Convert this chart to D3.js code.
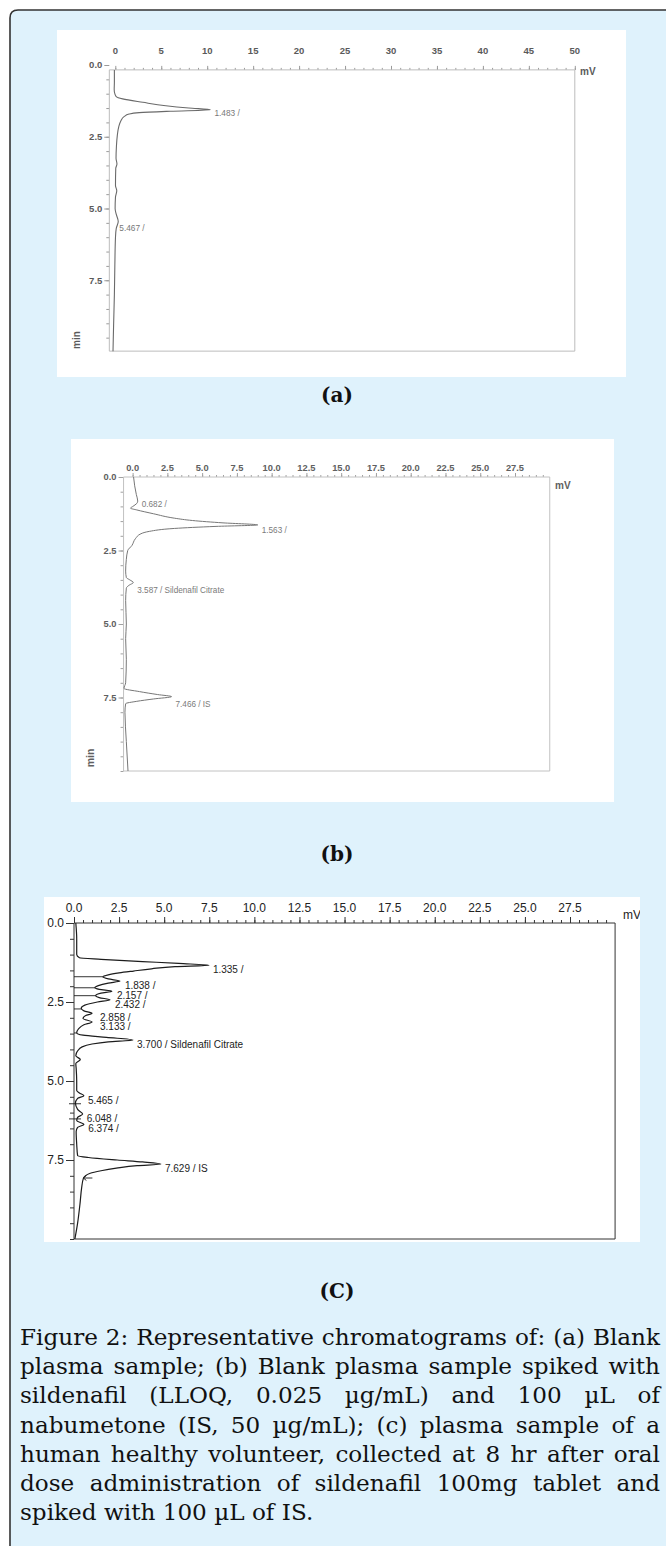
<!DOCTYPE html>
<html><head><meta charset="utf-8">
<script src="https://cdn.jsdelivr.net/npm/d3@7"></script>
<style>html,body{margin:0;padding:0;background:#fff;} svg{display:block}</style>
</head><body>
<svg id="fig" width="666" height="1546"></svg>
<script>
// ---------------- DATA ----------------
// time-axis ticks (min)
const timeTicks = [0, 2.5, 5, 7.5];
const timeLabels = ["0.0", "2.5", "5.0", "7.5"];
// mV ticks panel (a)
const mvTicksA = [0, 5, 10, 15, 20, 25, 30, 35, 40, 45, 50];
const mvLabelsA = ["0", "5", "10", "15", "20", "25", "30", "35", "40", "45", "50"];
// mV ticks panels (b) and (c)
const mvTicksBC = [0, 2.5, 5, 7.5, 10, 12.5, 15, 17.5, 20, 22.5, 25, 27.5];
const mvLabelsBC = ["0.0", "2.5", "5.0", "7.5", "10.0", "12.5", "15.0", "17.5", "20.0", "22.5", "25.0", "27.5"];

// traces: [time (min), signal (mV)]
const traceA = [
  [0.17,-0.1],[0.6,-0.1],[0.85,-0.12],[1.0,-0.05],[1.1,0.1],[1.18,0.8],[1.3,3.0],[1.42,5.5],[1.5,8.0],[1.56,10.35],
  [1.61,6.0],[1.66,2.6],[1.71,1.5],[1.8,0.95],[1.95,0.6],[2.15,0.38],[2.45,0.22],[2.85,0.12],[3.25,0.08],[3.45,0.18],
  [3.6,0.05],[4.2,0.02],[4.38,0.16],[4.6,0.02],[5.0,-0.02],[5.2,0.1],[5.45,0.32],[5.7,0.1],[6.0,0.02],[7.0,-0.05],
  [8.0,-0.1],[9.0,-0.18],[9.97,-0.25]
];
const traceB = [
  [0.0,0.07],[0.3,0.15],[0.6,0.27],[0.82,0.37],[0.9,0.3],[1.0,0.02],[1.06,-0.15],[1.12,0.3],[1.25,1.5],[1.4,3.0],
  [1.48,4.3],[1.56,6.5],[1.63,9.0],[1.68,6.0],[1.75,3.0],[1.85,1.2],[1.93,0.6],[2.1,0.2],[2.33,-0.05],[2.5,-0.35],
  [2.8,-0.45],[3.2,-0.5],[3.42,-0.45],[3.5,-0.2],[3.59,0.05],[3.68,-0.25],[3.78,-0.45],[4.2,-0.5],[5.0,-0.45],[5.5,-0.5],
  [6.2,-0.45],[7.0,-0.5],[7.19,-0.62],[7.3,0.5],[7.4,1.8],[7.47,2.8],[7.55,1.5],[7.63,0.3],[7.71,-0.5],[8.0,-0.55],
  [9.0,-0.45],[10.0,-0.33]
];
const traceC = [
  [0,0.1],[0.5,0.15],[1.0,0.15],[1.1,0.3],[1.15,1.5],[1.22,3.8],[1.28,5.8],[1.335,7.48],[1.38,5.6],[1.45,4.3],
  [1.52,3.3],[1.58,2.5],[1.64,1.9],[1.7,1.6],[1.77,1.9],[1.838,2.55],[1.9,1.9],[1.98,1.35],[2.05,1.15],[2.1,1.4],
  [2.157,2.1],[2.22,1.5],[2.3,1.2],[2.36,1.4],[2.432,2.0],[2.5,1.3],[2.6,0.6],[2.7,0.4],[2.78,0.55],[2.858,1.0],
  [2.93,0.65],[3.02,0.5],[3.133,1.0],[3.22,0.55],[3.35,0.25],[3.48,0.15],[3.55,0.5],[3.62,1.8],[3.70,3.27],[3.76,1.9],
  [3.83,1.0],[3.92,0.45],[4.05,0.2],[4.2,0.1],[4.32,0.35],[4.45,0.1],[4.6,0.12],[5.0,0.15],[5.3,0.15],[5.38,0.3],
  [5.465,0.55],[5.55,0.2],[5.7,0.08],[5.9,0.2],[6.048,0.48],[6.15,0.2],[6.25,0.15],[6.374,0.55],[6.47,0.2],[6.6,0.12],
  [7.0,0.15],[7.36,0.2],[7.42,0.8],[7.5,2.4],[7.56,3.8],[7.629,4.82],[7.68,3.5],[7.76,2.35],[7.84,1.5],[7.92,0.9],
  [8.08,0.52],[8.4,0.42],[8.9,0.33],[9.5,0.2],[10.0,0.05]
];

// peak labels: [text, retention time (min), apex (mV)]
const peaksA = [["1.483 /",1.483,10.35],["5.467 /",5.467,0.0]];
const peaksB = [["0.682 /",0.682,0.37],["1.563 /",1.563,9.0],["3.587 / Sildenafil Citrate",3.587,0.05],["7.466 / IS",7.466,2.8]];
const peaksC = [["1.335 /",1.335,7.48],["1.838 /",1.838,2.6],["2.157 /",2.157,2.16],["2.432 /",2.432,2.05],
  ["2.858 /",2.858,1.22],["3.133 /",3.133,1.22],["3.700 / Sildenafil Citrate",3.700,3.27],
  ["5.465 /",5.465,0.55],["6.048 /",6.048,0.48],["6.374 /",6.374,0.57],["7.629 / IS",7.629,4.82]];
// integration drop lines in (c): [time, mV at trace]
const dropsC = [[1.70,1.6],[2.05,1.15],[2.30,1.2],[2.72,0.42],[3.48,0.15]];
const markersC = [5.72, 6.2];
const arrowsC = [[8.07,0.52]];

const panelTitles = ["(a)", "(b)", "(C)"];
const captionLines = [
  "Figure 2: Representative chromatograms of: (a) Blank",
  "plasma sample; (b) Blank plasma sample spiked with",
  "sildenafil (LLOQ, 0.025 µg/mL) and 100 µL of",
  "nabumetone (IS, 50 µg/mL); (c) plasma sample of a",
  "human healthy volunteer, collected at 8 hr after oral",
  "dose administration of sildenafil 100mg tablet and",
  "spiked with 100 µL of IS."
];

// ---------------- LAYOUT / STYLE ----------------
const svg = d3.select("#fig");
svg.append("path").attr("d","M10,1546 V18 Q10,10 18,10 H666 V1546 Z").attr("fill","#dff2fc");
svg.append("path").attr("d","M10,1546 V18 Q10,10 18,10 H666").attr("fill","none").attr("stroke","#333").attr("stroke-width",1.6);

const SANS = "'Liberation Sans', Arial, sans-serif";
const panels = [
  { rect:[57,30,626,377], xDom:[0,50], xRng:[115.3,574.8], yDom:[0,10], yRng:[65,352],
    axisT:0.17, leftMv:-0.65, rightMv:50, bottomT:9.97, minorX:50, minorY:20,
    xTicks:mvTicksA, xLabels:mvLabelsA, xLabelY:51, xMaj:4, xMin:2, yMaj:5, yMin:3,
    axisCol:"#bcbcbc", tickCol:"#9a9a9a", traceCol:"#6a6a6a", traceW:1.1, labCol:"#5a5a5a",
    tickFont:"bold 9.5px "+SANS, peakFont:"8.3px "+SANS, peakCol:"#777", peakDy:6, peakGap:4,
    trace:traceA, peaks:peaksA, mv:[580,75,"bold 10px "+SANS], minL:[76.5,340,"bold 10px "+SANS] },
  { rect:[71,439,614,802], xDom:[0,27.5], xRng:[132.6,515], yDom:[0,10], yRng:[477,771],
    axisT:0, leftMv:-0.65, rightMv:30, bottomT:10, minorX:60, minorY:20,
    xTicks:mvTicksBC, xLabels:mvLabelsBC, xLabelY:468, xMaj:4, xMin:2, yMaj:5, yMin:3,
    axisCol:"#c2c2c2", tickCol:"#a0a0a0", traceCol:"#777", traceW:1.0, labCol:"#606060",
    tickFont:"bold 9.3px "+SANS, peakFont:"8.2px "+SANS, peakCol:"#7a7a7a", peakDy:7.5, peakGap:4,
    trace:traceB, peaks:peaksB, mv:[555,488.5,"bold 10px "+SANS], minL:[90,758,"bold 10.5px "+SANS] },
  { rect:[44,897,640,1242], xDom:[0,27.5], xRng:[74,570], yDom:[0,10], yRng:[923,1239],
    axisT:0, leftMv:0, rightMv:30, bottomT:10, minorX:60, minorY:20,
    xTicks:mvTicksBC, xLabels:mvLabelsBC, xLabelY:908, xMaj:6, xMin:3, yMaj:8, yMin:4,
    axisCol:"#333", tickCol:"#333", traceCol:"#1c1c1c", traceW:1.2, labCol:"#222",
    tickFont:"12px "+SANS, peakFont:"10px "+SANS, peakCol:"#222", peakDy:4.5, peakGap:4,
    trace:traceC, peaks:peaksC, mv:[623,919,"12px "+SANS], minL:null,
    drops:dropsC, markers:markersC, arrows:arrowsC }
];
const titleY = [402, 861, 1298];

panels.forEach((p, i) => {
  const [rx0, ry0, rx1, ry1] = p.rect;
  const clipId = "clip" + i;
  svg.append("clipPath").attr("id", clipId).append("rect")
    .attr("x", rx0).attr("y", ry0).attr("width", rx1 - rx0).attr("height", ry1 - ry0);
  svg.append("rect").attr("x", rx0).attr("y", ry0).attr("width", rx1 - rx0).attr("height", ry1 - ry0).attr("fill", "#fff");
  const g = svg.append("g").attr("clip-path", `url(#${clipId})`);
  const x = d3.scaleLinear().domain(p.xDom).range(p.xRng);
  const y = d3.scaleLinear().domain(p.yDom).range(p.yRng);
  const xL = x(p.leftMv), xR = x(p.rightMv), yT = y(p.axisT), yB = y(p.bottomT);

  // ticks via d3 axes
  const minorXVals = x.copy().domain([0, p.rightMv]).ticks(p.minorX).filter(v => v <= p.rightMv - 0.01 || i === 0);
  const gxm = g.append("g").attr("transform", `translate(0,${yT})`)
    .call(d3.axisTop(x).tickValues(minorXVals).tickSize(p.xMin).tickFormat(""));
  const gxM = g.append("g").attr("transform", `translate(0,${yT})`)
    .call(d3.axisTop(x).tickValues(p.xTicks).tickSize(p.xMaj).tickFormat(""));
  const minorYVals = y.ticks(p.minorY).filter(v => v >= p.axisT && v <= p.bottomT);
  const gym = g.append("g").attr("transform", `translate(${xL},0)`)
    .call(d3.axisLeft(y).tickValues(minorYVals).tickSize(p.yMin).tickFormat(""));
  const gyM = g.append("g").attr("transform", `translate(${xL},0)`)
    .call(d3.axisLeft(y).tickValues(timeTicks.filter(v => v >= p.axisT - 0.2)).tickSize(p.yMaj).tickFormat(""));
  [gxm, gxM, gym, gyM].forEach(a => {
    a.select(".domain").remove();
    a.selectAll("line").attr("stroke", p.tickCol).attr("stroke-width", 1);
  });

  // frame lines
  const frame = g.append("g").attr("fill", "none").attr("stroke", p.axisCol).attr("stroke-width", 1);
  frame.append("line").attr("x1", xL).attr("x2", xR).attr("y1", yT).attr("y2", yT);
  frame.append("line").attr("x1", xL).attr("x2", xL).attr("y1", yT).attr("y2", yB);
  frame.append("line").attr("x1", xR).attr("x2", xR).attr("y1", yT).attr("y2", yB);
  frame.append("line").attr("x1", xL).attr("x2", xR).attr("y1", yB).attr("y2", yB);

  // tick labels
  g.append("g").selectAll("text").data(p.xTicks).join("text")
    .attr("x", d => x(d)).attr("y", p.xLabelY).attr("dy", "0.35em")
    .attr("text-anchor", "middle").style("font", p.tickFont).attr("fill", p.labCol)
    .text((d, k) => p.xLabels[k]);
  g.append("g").selectAll("text").data(timeTicks).join("text")
    .attr("x", xL - p.yMaj - 2).attr("y", d => y(d)).attr("dy", "0.35em")
    .attr("text-anchor", "end").style("font", p.tickFont).attr("fill", p.labCol)
    .text((d, k) => timeLabels[k]);

  // unit labels
  g.append("text").attr("x", p.mv[0]).attr("y", p.mv[1]).style("font", p.mv[2]).attr("fill", p.labCol).text("mV");
  if (p.minL) {
    g.append("text").attr("transform", `translate(${p.minL[0]},${p.minL[1]}) rotate(-90)`)
      .attr("text-anchor", "middle").attr("dy", "0.35em").style("font", p.minL[2]).attr("fill", p.labCol).text("min");
  }

  // drop lines / markers
  if (p.drops) {
    g.append("g").selectAll("line").data(p.drops).join("line")
      .attr("x1", xL).attr("x2", d => x(d[1])).attr("y1", d => y(d[0])).attr("y2", d => y(d[0]))
      .attr("stroke", p.traceCol).attr("stroke-width", 0.9);
  }
  if (p.markers) {
    g.append("g").selectAll("line").data(p.markers).join("line")
      .attr("x1", xL - 5).attr("x2", xL + 7).attr("y1", d => y(d)).attr("y2", d => y(d))
      .attr("stroke", p.traceCol).attr("stroke-width", 0.9);
  }
  if (p.arrows) {
    p.arrows.forEach(a => {
      const ax = x(a[1]), ay = y(a[0]);
      g.append("path").attr("d", `M${ax+9},${ay} H${ax} M${ax+3},${ay-2.5} L${ax},${ay} L${ax+3},${ay+2.5}`)
        .attr("fill", "none").attr("stroke", p.traceCol).attr("stroke-width", 0.9);
    });
  }

  // trace
  const line = d3.line().x(d => x(d[1])).y(d => y(d[0])).curve(d3.curveMonotoneY);
  g.append("path").datum(p.trace).attr("d", line).attr("fill", "none")
    .attr("stroke", p.traceCol).attr("stroke-width", p.traceW).attr("stroke-linejoin", "round");

  // peak labels
  g.append("g").selectAll("text").data(p.peaks).join("text")
    .attr("x", d => x(d[2]) + p.peakGap).attr("y", d => y(d[1]) + p.peakDy).attr("dy", "0.35em")
    .style("font", p.peakFont).attr("fill", p.peakCol).text(d => d[0]);

  // panel title
  svg.append("text").attr("x", 337).attr("y", titleY[i]).attr("text-anchor", "middle")
    .style("font", "bold 20px 'DejaVu Serif', serif").attr("fill", "#111").text(panelTitles[i]);
});

// ---------------- CAPTION (justified) ----------------
const capX0 = 20, capX1 = 660, capY0 = 1345, capDy = 29.2;
const FAM = "'DejaVu Serif', serif";
const meas = svg.append("text").attr("visibility", "hidden");
const wOf = (s, fs) => { meas.style("font", fs + "px " + FAM).text(s); return meas.node().getComputedTextLength(); };
// fit the font so that the tightest justified line is just full
const ratio = d3.min(captionLines.slice(0, -1), ln => (capX1 - capX0) / wOf(ln, 20));
const capFs = Math.min(24, 20 * ratio * 0.995);
const capFont = capFs + "px " + FAM;
const spaceW = wOf("a a", capFs) - wOf("aa", capFs);
captionLines.forEach((ln, i) => {
  const words = ln.split(" ");
  const widths = words.map(w => wOf(w, capFs));
  const total = d3.sum(widths);
  const last = i === captionLines.length - 1;
  const gap = last ? spaceW : (capX1 - capX0 - total) / (words.length - 1);
  const t = svg.append("text").attr("y", capY0 + i * capDy).style("font", capFont).attr("fill", "#111");
  let cx = capX0;
  words.forEach((w, k) => {
    t.append("tspan").attr("x", cx).text(w);
    cx += widths[k] + gap;
  });
});
meas.remove();
</script>
</body></html>
